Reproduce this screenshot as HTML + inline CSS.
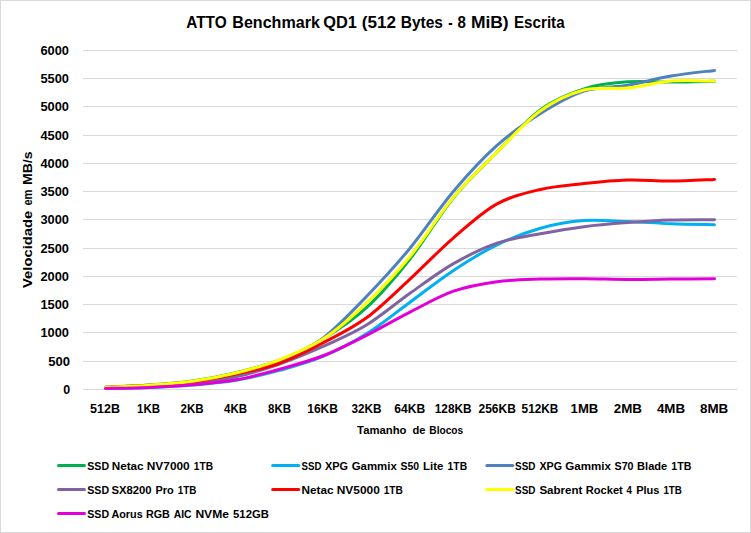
<!DOCTYPE html>
<html><head><meta charset="utf-8"><title>ATTO Benchmark QD1 Escrita</title>
<style>html,body{margin:0;padding:0;background:#fff;}body{width:751px;height:533px;overflow:hidden;}svg{display:block;}text{font-family:"Liberation Sans",sans-serif;font-weight:bold;fill:#000;}</style></head><body>
<svg width="751" height="533" viewBox="0 0 751 533">
<rect x="0" y="0" width="751" height="533" fill="#ffffff"/>
<rect x="0.5" y="0.5" width="750" height="532" fill="none" stroke="#d9d9d9" stroke-width="1"/>
<line x1="83" y1="389.5" x2="737" y2="389.5" stroke="#d9d9d9" stroke-width="1"/>
<line x1="83" y1="361.5" x2="737" y2="361.5" stroke="#d9d9d9" stroke-width="1"/>
<line x1="83" y1="332.5" x2="737" y2="332.5" stroke="#d9d9d9" stroke-width="1"/>
<line x1="83" y1="304.5" x2="737" y2="304.5" stroke="#d9d9d9" stroke-width="1"/>
<line x1="83" y1="276.5" x2="737" y2="276.5" stroke="#d9d9d9" stroke-width="1"/>
<line x1="83" y1="248.5" x2="737" y2="248.5" stroke="#d9d9d9" stroke-width="1"/>
<line x1="83" y1="219.5" x2="737" y2="219.5" stroke="#d9d9d9" stroke-width="1"/>
<line x1="83" y1="191.5" x2="737" y2="191.5" stroke="#d9d9d9" stroke-width="1"/>
<line x1="83" y1="163.5" x2="737" y2="163.5" stroke="#d9d9d9" stroke-width="1"/>
<line x1="83" y1="135.5" x2="737" y2="135.5" stroke="#d9d9d9" stroke-width="1"/>
<line x1="83" y1="106.5" x2="737" y2="106.5" stroke="#d9d9d9" stroke-width="1"/>
<line x1="83" y1="78.5" x2="737" y2="78.5" stroke="#d9d9d9" stroke-width="1"/>
<line x1="83" y1="50.5" x2="737" y2="50.5" stroke="#d9d9d9" stroke-width="1"/>
<text x="186.2" y="28.0" font-size="16.6" textLength="40.5" lengthAdjust="spacingAndGlyphs">ATTO</text>
<text x="232.3" y="28.0" font-size="16.6" textLength="87.6" lengthAdjust="spacingAndGlyphs">Benchmark</text>
<text x="323.2" y="28.0" font-size="16.6" textLength="33.6" lengthAdjust="spacingAndGlyphs">QD1</text>
<text x="361.8" y="28.0" font-size="16.6" textLength="34.2" lengthAdjust="spacingAndGlyphs">(512</text>
<text x="400.7" y="28.0" font-size="16.6" textLength="42.3" lengthAdjust="spacingAndGlyphs">Bytes</text>
<text x="448.3" y="28.0" font-size="16.6" textLength="4.4" lengthAdjust="spacingAndGlyphs">-</text>
<text x="457.5" y="28.0" font-size="16.6" textLength="8.4" lengthAdjust="spacingAndGlyphs">8</text>
<text x="470.9" y="28.0" font-size="16.6" textLength="37.8" lengthAdjust="spacingAndGlyphs">MiB)</text>
<text x="514.0" y="28.0" font-size="16.6" textLength="50.6" lengthAdjust="spacingAndGlyphs">Escrita</text>
<text x="63.2" y="394.0" font-size="12.6" textLength="6.9" lengthAdjust="spacingAndGlyphs">0</text>
<text x="48.3" y="366.0" font-size="12.6" textLength="21.8" lengthAdjust="spacingAndGlyphs">500</text>
<text x="40.4" y="337.0" font-size="12.6" textLength="28.6" lengthAdjust="spacingAndGlyphs">1000</text>
<text x="40.4" y="309.0" font-size="12.6" textLength="28.6" lengthAdjust="spacingAndGlyphs">1500</text>
<text x="40.4" y="281.0" font-size="12.6" textLength="28.6" lengthAdjust="spacingAndGlyphs">2000</text>
<text x="40.4" y="253.0" font-size="12.6" textLength="28.6" lengthAdjust="spacingAndGlyphs">2500</text>
<text x="40.4" y="224.0" font-size="12.6" textLength="28.6" lengthAdjust="spacingAndGlyphs">3000</text>
<text x="40.4" y="196.0" font-size="12.6" textLength="28.6" lengthAdjust="spacingAndGlyphs">3500</text>
<text x="40.4" y="168.0" font-size="12.6" textLength="28.6" lengthAdjust="spacingAndGlyphs">4000</text>
<text x="40.4" y="140.0" font-size="12.6" textLength="28.6" lengthAdjust="spacingAndGlyphs">4500</text>
<text x="40.4" y="111.0" font-size="12.6" textLength="28.6" lengthAdjust="spacingAndGlyphs">5000</text>
<text x="40.4" y="83.0" font-size="12.6" textLength="28.6" lengthAdjust="spacingAndGlyphs">5500</text>
<text x="40.4" y="55.0" font-size="12.6" textLength="28.6" lengthAdjust="spacingAndGlyphs">6000</text>
<g transform="translate(32.3,0) rotate(-90)">
<text x="-288.0" y="0" font-size="12.6" textLength="77.3" lengthAdjust="spacingAndGlyphs">Velocidade</text>
<text x="-205.6" y="0" font-size="12.6" textLength="16.0" lengthAdjust="spacingAndGlyphs">em</text>
<text x="-185.1" y="0" font-size="12.6" textLength="33.7" lengthAdjust="spacingAndGlyphs">MB/s</text>
</g>
<text x="90.0" y="413.0" font-size="12.6" textLength="30.0" lengthAdjust="spacingAndGlyphs">512B</text>
<text x="137.0" y="413.0" font-size="12.6" textLength="23.0" lengthAdjust="spacingAndGlyphs">1KB</text>
<text x="180.5" y="413.0" font-size="12.6" textLength="23.1" lengthAdjust="spacingAndGlyphs">2KB</text>
<text x="224.0" y="413.0" font-size="12.6" textLength="23.0" lengthAdjust="spacingAndGlyphs">4KB</text>
<text x="268.0" y="413.0" font-size="12.6" textLength="23.0" lengthAdjust="spacingAndGlyphs">8KB</text>
<text x="307.2" y="413.0" font-size="12.6" textLength="30.8" lengthAdjust="spacingAndGlyphs">16KB</text>
<text x="351.5" y="413.0" font-size="12.6" textLength="30.0" lengthAdjust="spacingAndGlyphs">32KB</text>
<text x="394.3" y="413.0" font-size="12.6" textLength="30.9" lengthAdjust="spacingAndGlyphs">64KB</text>
<text x="434.8" y="413.0" font-size="12.6" textLength="36.8" lengthAdjust="spacingAndGlyphs">128KB</text>
<text x="478.5" y="413.0" font-size="12.6" textLength="37.3" lengthAdjust="spacingAndGlyphs">256KB</text>
<text x="521.6" y="413.0" font-size="12.6" textLength="36.8" lengthAdjust="spacingAndGlyphs">512KB</text>
<text x="570.6" y="413.0" font-size="12.6" textLength="27.7" lengthAdjust="spacingAndGlyphs">1MB</text>
<text x="613.8" y="413.0" font-size="12.6" textLength="28.2" lengthAdjust="spacingAndGlyphs">2MB</text>
<text x="656.9" y="413.0" font-size="12.6" textLength="28.2" lengthAdjust="spacingAndGlyphs">4MB</text>
<text x="700.0" y="413.0" font-size="12.6" textLength="28.3" lengthAdjust="spacingAndGlyphs">8MB</text>
<text x="357.1" y="434.0" font-size="10.4" textLength="49.4" lengthAdjust="spacingAndGlyphs">Tamanho</text>
<text x="412.5" y="434.0" font-size="10.4" textLength="13.0" lengthAdjust="spacingAndGlyphs">de</text>
<text x="429.3" y="434.0" font-size="10.4" textLength="33.9" lengthAdjust="spacingAndGlyphs">Blocos</text>
<path d="M105.50,387.24 C112.75,386.86 134.50,386.02 149.00,384.98 C163.50,383.94 178.00,383.08 192.50,381.02 C207.00,378.97 221.50,376.15 236.00,372.66 C250.50,369.18 265.00,365.74 279.50,360.12 C294.00,354.50 308.50,347.67 323.00,338.93 C337.50,330.19 352.00,321.01 366.50,307.69 C381.00,294.36 395.50,277.32 410.00,258.99 C424.50,240.65 439.00,215.48 453.50,197.68 C468.00,179.88 482.50,166.88 497.00,152.20 C511.50,137.52 526.00,120.16 540.50,109.60 C555.00,99.03 569.50,93.43 584.00,88.81 C598.50,84.18 613.00,82.98 627.50,81.86 C642.00,80.74 656.50,82.18 671.00,82.08 C685.50,81.99 707.25,81.42 714.50,81.29" fill="none" stroke="#00B050" stroke-width="3" stroke-linecap="round" stroke-linejoin="round"/>
<path d="M105.50,388.48 C112.75,388.32 134.50,388.09 149.00,387.52 C163.50,386.96 178.00,386.30 192.50,385.09 C207.00,383.89 221.50,382.74 236.00,380.29 C250.50,377.84 265.00,374.38 279.50,370.40 C294.00,366.43 308.50,362.55 323.00,356.45 C337.50,350.35 352.00,342.83 366.50,333.79 C381.00,324.75 395.50,312.77 410.00,302.21 C424.50,291.64 439.00,279.96 453.50,270.40 C468.00,260.84 482.50,251.89 497.00,244.86 C511.50,237.83 526.00,232.24 540.50,228.19 C555.00,224.14 569.50,221.67 584.00,220.56 C598.50,219.46 613.00,221.06 627.50,221.58 C642.00,222.10 656.50,223.15 671.00,223.67 C685.50,224.19 707.25,224.52 714.50,224.69" fill="none" stroke="#00B0F0" stroke-width="3" stroke-linecap="round" stroke-linejoin="round"/>
<path d="M105.50,387.81 C112.75,387.52 134.50,387.00 149.00,386.11 C163.50,385.22 178.00,384.21 192.50,382.44 C207.00,380.67 221.50,378.83 236.00,375.49 C250.50,372.15 265.00,368.60 279.50,362.38 C294.00,356.16 308.50,349.13 323.00,338.14 C337.50,327.15 352.00,311.44 366.50,296.44 C381.00,281.45 395.50,265.74 410.00,248.19 C424.50,230.65 439.00,208.33 453.50,191.19 C468.00,174.04 482.50,158.25 497.00,145.31 C511.50,132.36 526.00,122.52 540.50,113.50 C555.00,104.48 569.50,95.89 584.00,91.18 C598.50,86.47 613.00,87.77 627.50,85.25 C642.00,82.72 656.50,78.51 671.00,76.04 C685.50,73.56 707.25,71.33 714.50,70.39" fill="none" stroke="#4F81BD" stroke-width="3" stroke-linecap="round" stroke-linejoin="round"/>
<path d="M105.50,387.92 C112.75,387.66 134.50,387.17 149.00,386.39 C163.50,385.61 178.00,384.83 192.50,383.23 C207.00,381.63 221.50,379.98 236.00,376.79 C250.50,373.60 265.00,369.13 279.50,364.07 C294.00,359.02 308.50,352.96 323.00,346.45 C337.50,339.93 352.00,333.85 366.50,324.98 C381.00,316.11 395.50,303.44 410.00,293.22 C424.50,283.01 439.00,272.02 453.50,263.67 C468.00,255.33 482.50,248.17 497.00,243.16 C511.50,238.16 526.00,236.42 540.50,233.67 C555.00,230.92 569.50,228.51 584.00,226.67 C598.50,224.82 613.00,223.71 627.50,222.60 C642.00,221.49 656.50,220.48 671.00,220.00 C685.50,219.52 707.25,219.76 714.50,219.72" fill="none" stroke="#8064A2" stroke-width="3" stroke-linecap="round" stroke-linejoin="round"/>
<path d="M105.50,387.35 C112.75,387.00 134.50,386.13 149.00,385.21 C163.50,384.28 178.00,383.68 192.50,381.82 C207.00,379.95 221.50,377.12 236.00,374.02 C250.50,370.92 265.00,368.42 279.50,363.23 C294.00,358.04 308.50,350.46 323.00,342.89 C337.50,335.32 352.00,328.44 366.50,317.80 C381.00,307.16 395.50,292.38 410.00,279.04 C424.50,265.71 439.00,250.32 453.50,237.80 C468.00,225.27 482.50,211.96 497.00,203.90 C511.50,195.84 526.00,192.82 540.50,189.43 C555.00,186.04 569.50,185.12 584.00,183.56 C598.50,181.99 613.00,180.47 627.50,180.05 C642.00,179.64 656.50,181.18 671.00,181.07 C685.50,180.96 707.25,179.66 714.50,179.38" fill="none" stroke="#FF0000" stroke-width="3" stroke-linecap="round" stroke-linejoin="round"/>
<path d="M105.50,387.30 C112.75,386.94 134.50,386.17 149.00,385.15 C163.50,384.13 178.00,383.23 192.50,381.19 C207.00,379.16 221.50,376.50 236.00,372.95 C250.50,369.40 265.00,365.53 279.50,359.89 C294.00,354.25 308.50,348.58 323.00,339.10 C337.50,329.63 352.00,316.83 366.50,303.06 C381.00,289.28 395.50,274.05 410.00,256.44 C424.50,238.83 439.00,214.77 453.50,197.40 C468.00,180.03 482.50,166.65 497.00,152.20 C511.50,137.75 526.00,121.09 540.50,110.73 C555.00,100.37 569.50,93.83 584.00,90.05 C598.50,86.27 613.00,89.57 627.50,88.07 C642.00,86.58 656.50,82.23 671.00,81.07 C685.50,79.90 707.25,81.07 714.50,81.07" fill="none" stroke="#FFFF00" stroke-width="3" stroke-linecap="round" stroke-linejoin="round"/>
<path d="M105.50,388.43 C112.75,388.26 134.50,388.01 149.00,387.41 C163.50,386.81 178.00,386.07 192.50,384.81 C207.00,383.55 221.50,382.44 236.00,379.84 C250.50,377.24 265.00,373.23 279.50,369.22 C294.00,365.20 308.50,361.42 323.00,355.77 C337.50,350.12 352.00,342.60 366.50,335.32 C381.00,328.04 395.50,319.45 410.00,312.10 C424.50,304.74 439.00,296.26 453.50,291.19 C468.00,286.12 482.50,283.72 497.00,281.70 C511.50,279.67 526.00,279.54 540.50,279.04 C555.00,278.54 569.50,278.65 584.00,278.70 C598.50,278.76 613.00,279.33 627.50,279.38 C642.00,279.44 656.50,279.16 671.00,279.04 C685.50,278.93 707.25,278.76 714.50,278.70" fill="none" stroke="#E300D8" stroke-width="3" stroke-linecap="round" stroke-linejoin="round"/>
<line x1="58.5" y1="465.5" x2="84.5" y2="465.5" stroke="#00B050" stroke-width="3" stroke-linecap="round"/>
<text x="87.3" y="469.8" font-size="10.6" textLength="21.8" lengthAdjust="spacingAndGlyphs">SSD</text>
<text x="111.7" y="469.8" font-size="10.6" textLength="31.9" lengthAdjust="spacingAndGlyphs">Netac</text>
<text x="146.8" y="469.8" font-size="10.6" textLength="42.9" lengthAdjust="spacingAndGlyphs">NV7000</text>
<text x="193.8" y="469.8" font-size="10.6" textLength="19.2" lengthAdjust="spacingAndGlyphs">1TB</text>
<line x1="272.7" y1="465.5" x2="298.7" y2="465.5" stroke="#00B0F0" stroke-width="3" stroke-linecap="round"/>
<text x="301.5" y="469.8" font-size="10.6" textLength="19.9" lengthAdjust="spacingAndGlyphs">SSD</text>
<text x="324.9" y="469.8" font-size="10.6" textLength="23.0" lengthAdjust="spacingAndGlyphs">XPG</text>
<text x="351.7" y="469.8" font-size="10.6" textLength="45.1" lengthAdjust="spacingAndGlyphs">Gammix</text>
<text x="400.6" y="469.8" font-size="10.6" textLength="18.6" lengthAdjust="spacingAndGlyphs">S50</text>
<text x="423.0" y="469.8" font-size="10.6" textLength="20.4" lengthAdjust="spacingAndGlyphs">Lite</text>
<text x="447.6" y="469.8" font-size="10.6" textLength="19.5" lengthAdjust="spacingAndGlyphs">1TB</text>
<line x1="486.8" y1="465.5" x2="512.8" y2="465.5" stroke="#4F81BD" stroke-width="3" stroke-linecap="round"/>
<text x="515.1" y="469.8" font-size="10.6" textLength="20.4" lengthAdjust="spacingAndGlyphs">SSD</text>
<text x="539.4" y="469.8" font-size="10.6" textLength="22.6" lengthAdjust="spacingAndGlyphs">XPG</text>
<text x="565.2" y="469.8" font-size="10.6" textLength="45.7" lengthAdjust="spacingAndGlyphs">Gammix</text>
<text x="614.5" y="469.8" font-size="10.6" textLength="19.1" lengthAdjust="spacingAndGlyphs">S70</text>
<text x="637.1" y="469.8" font-size="10.6" textLength="30.1" lengthAdjust="spacingAndGlyphs">Blade</text>
<text x="671.3" y="469.8" font-size="10.6" textLength="20.2" lengthAdjust="spacingAndGlyphs">1TB</text>
<line x1="58.5" y1="489.5" x2="84.5" y2="489.5" stroke="#8064A2" stroke-width="3" stroke-linecap="round"/>
<text x="87.3" y="493.8" font-size="10.6" textLength="21.8" lengthAdjust="spacingAndGlyphs">SSD</text>
<text x="111.4" y="493.8" font-size="10.6" textLength="40.2" lengthAdjust="spacingAndGlyphs">SX8200</text>
<text x="155.5" y="493.8" font-size="10.6" textLength="18.2" lengthAdjust="spacingAndGlyphs">Pro</text>
<text x="177.8" y="493.8" font-size="10.6" textLength="18.6" lengthAdjust="spacingAndGlyphs">1TB</text>
<line x1="272.7" y1="489.5" x2="298.7" y2="489.5" stroke="#FF0000" stroke-width="3" stroke-linecap="round"/>
<text x="301.5" y="493.8" font-size="10.6" textLength="32.0" lengthAdjust="spacingAndGlyphs">Netac</text>
<text x="336.7" y="493.8" font-size="10.6" textLength="43.1" lengthAdjust="spacingAndGlyphs">NV5000</text>
<text x="383.7" y="493.8" font-size="10.6" textLength="19.2" lengthAdjust="spacingAndGlyphs">1TB</text>
<line x1="486.8" y1="489.5" x2="512.8" y2="489.5" stroke="#FFFF00" stroke-width="3" stroke-linecap="round"/>
<text x="515.1" y="493.8" font-size="10.6" textLength="20.4" lengthAdjust="spacingAndGlyphs">SSD</text>
<text x="539.4" y="493.8" font-size="10.6" textLength="43.1" lengthAdjust="spacingAndGlyphs">Sabrent</text>
<text x="585.7" y="493.8" font-size="10.6" textLength="37.1" lengthAdjust="spacingAndGlyphs">Rocket</text>
<text x="626.6" y="493.8" font-size="10.6" textLength="5.4" lengthAdjust="spacingAndGlyphs">4</text>
<text x="636.2" y="493.8" font-size="10.6" textLength="23.3" lengthAdjust="spacingAndGlyphs">Plus</text>
<text x="663.4" y="493.8" font-size="10.6" textLength="18.5" lengthAdjust="spacingAndGlyphs">1TB</text>
<line x1="58.5" y1="513.5" x2="84.5" y2="513.5" stroke="#E300D8" stroke-width="3" stroke-linecap="round"/>
<text x="87.3" y="517.8" font-size="10.6" textLength="21.8" lengthAdjust="spacingAndGlyphs">SSD</text>
<text x="111.4" y="517.8" font-size="10.6" textLength="31.3" lengthAdjust="spacingAndGlyphs">Aorus</text>
<text x="145.9" y="517.8" font-size="10.6" textLength="23.9" lengthAdjust="spacingAndGlyphs">RGB</text>
<text x="173.7" y="517.8" font-size="10.6" textLength="17.9" lengthAdjust="spacingAndGlyphs">AIC</text>
<text x="195.4" y="517.8" font-size="10.6" textLength="33.6" lengthAdjust="spacingAndGlyphs">NVMe</text>
<text x="233.1" y="517.8" font-size="10.6" textLength="35.8" lengthAdjust="spacingAndGlyphs">512GB</text>
</svg></body></html>
